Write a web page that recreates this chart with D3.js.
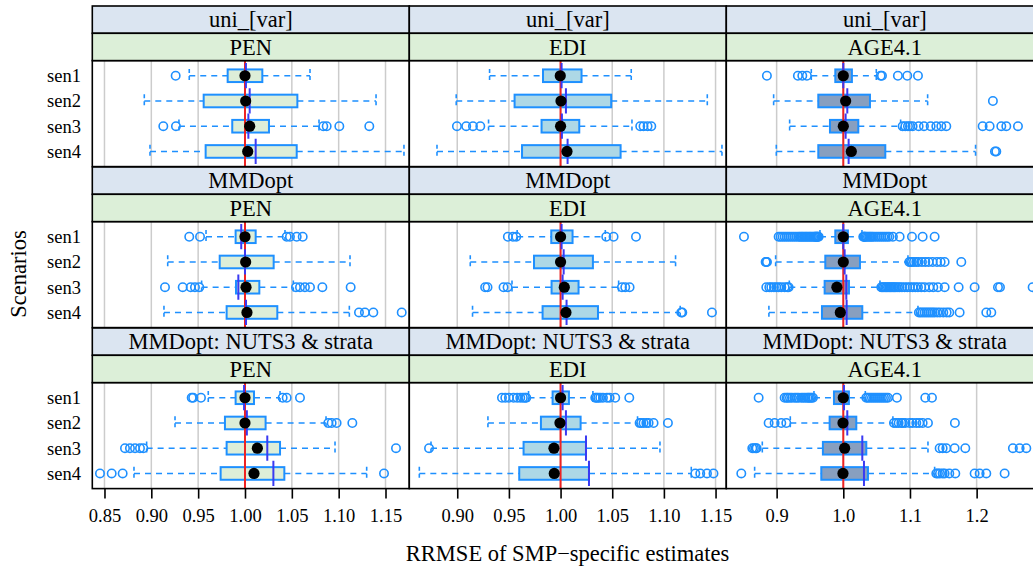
<!DOCTYPE html>
<html>
<head>
<meta charset="utf-8">
<script src="https://cdn.jsdelivr.net/npm/d3@7"></script>
<style>
  html, body { margin: 0; padding: 0; background: #ffffff; overflow: hidden; }
  svg { display: block; }
</style>
</head>
<body>
<svg id="chart" width="1033" height="569"></svg>
<script>
// ---- categories ----
const methods = ["uni_[var]", "MMDopt", "MMDopt: NUTS3 & strata"];
const variables = ["PEN", "EDI", "AGE4.1"];
const scenarios = ["sen1", "sen2", "sen3", "sen4"];

// ---- axis limits and ticks per variable column ----
const penLimits = [0.837, 1.1754];
const ediLimits = [0.8536, 1.1604];
const ageLimits = [0.8245, 1.30];
const penTicks = [0.85, 0.90, 0.95, 1.00, 1.05, 1.10, 1.15];
const penTickLabels = ["0.85", "0.90", "0.95", "1.00", "1.05", "1.10", "1.15"];
const ediTicks = [0.90, 0.95, 1.00, 1.05, 1.10, 1.15];
const ediTickLabels = ["0.90", "0.95", "1.00", "1.05", "1.10", "1.15"];
const ageTicks = [0.9, 1.0, 1.1, 1.2];
const ageTickLabels = ["0.9", "1.0", "1.1", "1.2"];

// ---- box statistics per scenario: [lower whisker, Q1, median, Q3, upper whisker, mean] ----
const uniPEN = [
  [0.9405, 0.9815, 1.0000, 1.0185, 1.0694, 1.0010],
  [0.8925, 0.9559, 1.0007, 1.0559, 1.1399, 1.0050],
  [0.9295, 0.9864, 1.0050, 1.0256, 1.0790, 1.0036],
  [0.8986, 0.9580, 1.0029, 1.0552, 1.1697, 1.0114]
];
const uniPENOut = [
  [0.926],
  [],
  [0.9128, 0.9263, 1.0836, 1.0872, 1.1007, 1.1327],
  []
];
const mmdPEN = [
  [0.9584, 0.9900, 1.0000, 1.0114, 1.0427, 0.9960],
  [0.9175, 0.9730, 1.0007, 1.0306, 1.1121, 1.0000],
  [0.9537, 0.9904, 1.0011, 1.0153, 1.0516, 0.9929],
  [0.9135, 0.9804, 1.0021, 1.0345, 1.1114, 1.0011]
];
const mmdPENOut = [
  [0.9405, 0.9520, 1.0445, 1.0480, 1.0552, 1.0616],
  [],
  [0.9146, 0.9335, 0.9420, 0.9466, 0.9512, 1.0544, 1.0587, 1.0640, 1.0694, 1.0826, 1.1128],
  [1.1217, 1.1280, 1.1370, 1.1673]
];
const nutsPEN = [
  [0.9608, 0.9900, 1.0000, 1.0096, 1.0374, 0.9990],
  [0.9253, 0.9786, 1.0000, 1.0220, 1.0865, 1.0020],
  [0.8950, 0.9804, 1.0132, 1.0374, 1.0961, 1.0238],
  [0.8815, 0.9740, 1.0096, 1.0420, 1.1299, 1.0303]
];
const nutsPENOut = [
  [0.9431, 0.9447, 0.9530, 1.0402, 1.0445, 1.0587],
  [1.0889, 1.0925, 1.0978, 1.1146],
  [0.8719, 0.8772, 0.8826, 0.8879, 0.8915, 1.1612],
  [0.8452, 0.8577, 0.8694, 1.1484]
];

const uniEDI = [
  [0.9313, 0.9830, 0.9997, 1.0203, 1.0684, 1.0010],
  [0.8990, 0.9555, 1.0004, 1.0490, 1.1420, 1.0052],
  [0.9303, 0.9816, 1.0000, 1.0181, 1.0691, 1.0013],
  [0.8804, 0.9627, 1.0062, 1.0581, 1.1562, 1.0068]
];
const uniEDIOut = [
  [],
  [],
  [0.8997, 0.9087, 0.9152, 0.9223, 1.0771, 1.0803, 1.0842, 1.0878],
  []
];
const mmdEDI = [
  [0.9580, 0.9910, 1.0000, 1.0116, 1.0433, 1.0010],
  [0.9126, 0.9743, 1.0000, 1.0313, 1.1113, 1.0030],
  [0.9530, 0.9913, 1.0036, 1.0174, 1.0562, 1.0020],
  [0.9148, 0.9826, 1.0052, 1.0362, 1.1158, 1.0058]
];
const mmdEDIOut = [
  [0.9490, 0.9539, 0.9571, 1.0442, 1.0513, 1.0730],
  [],
  [0.9270, 0.9293, 0.9448, 0.9487, 1.0594, 1.0626, 1.0668],
  [1.1168, 1.1178, 1.1465]
];
const nutsEDI = [
  [0.9690, 0.9923, 1.0000, 1.0081, 1.0313, 1.0020],
  [0.9297, 0.9810, 0.9994, 1.0194, 1.0745, 1.0052],
  [0.8746, 0.9642, 0.9936, 1.0246, 1.0962, 1.0246],
  [0.8633, 0.9600, 0.9939, 1.0275, 1.1265, 1.0275]
];
const nutsEDIOut = [
  [0.9433, 0.9465, 0.9500, 0.9545, 0.9580, 0.9610, 0.9635, 0.9655, 0.9668,
   1.0336, 1.0350, 1.0365, 1.0384, 1.0410, 1.0449, 1.0475, 1.0529, 1.0665],
  [1.0765, 1.0780, 1.0803, 1.0830, 1.0852, 1.0900, 1.1039],
  [0.8727],
  [1.1304, 1.1352, 1.1417, 1.1480]
];

const uniAGE = [
  [0.9520, 0.9880, 1.0000, 1.0129, 1.0495, 1.0000],
  [0.8955, 0.9625, 1.0035, 1.0400, 1.1265, 1.0060],
  [0.9195, 0.9800, 1.0000, 1.0225, 1.0860, 1.0035],
  [0.8995, 0.9625, 1.0120, 1.0630, 1.1984, 1.0080]
];
const uniAGEOut = [
  [0.8854, 0.9319, 0.9385, 0.9454, 1.0560, 1.0580, 1.0819, 1.0960, 1.1120],
  [1.2244],
  [1.0890, 1.0930, 1.0970, 1.1000, 1.1040, 1.1130, 1.1210, 1.1310, 1.1395, 1.1470,
   1.1545, 1.2090, 1.2195, 1.2370, 1.2445, 1.2620],
  [1.2275, 1.2295]
];
const mmdAGE = [
  [0.9650, 0.9880, 1.0000, 1.0069, 1.0280, 1.0000],
  [0.8985, 0.9730, 1.0000, 1.0250, 1.0970, 1.0020],
  [0.9190, 0.9720, 0.9904, 1.0085, 1.0550, 1.0045],
  [0.8884, 0.9680, 0.9955, 1.0285, 1.1120, 1.0050]
];
const mmdAGEOut = [
  [0.851, 0.903, 0.906, 0.909, 0.912, 0.915, 0.918, 0.921, 0.924, 0.927, 0.930, 0.933,
   0.935, 0.937, 0.939, 0.941, 0.943, 0.945, 0.947, 0.949, 0.951, 0.953, 0.955, 0.957,
   0.958, 0.959, 0.960, 0.961, 0.962, 0.963,
   1.030, 1.031, 1.032, 1.033, 1.035, 1.037, 1.039, 1.041, 1.043, 1.045, 1.048, 1.051,
   1.054, 1.057, 1.060, 1.063, 1.066, 1.069, 1.0744, 1.0845, 1.103, 1.119, 1.137],
  [0.8835, 0.8845, 0.8855, 1.099, 1.101, 1.103, 1.106, 1.1095, 1.113, 1.118, 1.123,
   1.128, 1.134, 1.1405, 1.146, 1.152, 1.177],
  [0.8845, 0.889, 0.892, 0.896, 0.8995, 0.903, 0.907, 0.912, 0.916, 0.918,
   1.057, 1.059, 1.061, 1.063, 1.065, 1.067, 1.069, 1.071, 1.073, 1.075, 1.077, 1.079,
   1.082, 1.0845, 1.088, 1.092, 1.096, 1.100, 1.104, 1.108, 1.112, 1.117, 1.122, 1.129,
   1.135, 1.142, 1.152, 1.173, 1.197, 1.232, 1.235, 1.284],
  [1.1134, 1.116, 1.119, 1.122, 1.125, 1.128, 1.131, 1.134, 1.137, 1.141, 1.145, 1.150,
   1.155, 1.159, 1.1745, 1.2145, 1.222]
];
const nutsAGE = [
  [0.9560, 0.9860, 1.0000, 1.0084, 1.0330, 1.0010],
  [0.9205, 0.9795, 0.9995, 1.0195, 1.0744, 1.0060],
  [0.8785, 0.9694, 1.0020, 1.0345, 1.1270, 1.0285],
  [0.8670, 0.9670, 0.9995, 1.0370, 1.1370, 1.0310]
];
const nutsAGEOut = [
  [0.873, 0.912, 0.915, 0.917, 0.920, 0.923, 0.927, 0.930, 0.933, 0.937, 0.940, 0.943,
   0.946, 0.948, 0.950, 0.952, 0.9544,
   1.0345, 1.037, 1.040, 1.043, 1.046, 1.049, 1.052, 1.055, 1.058, 1.061, 1.064, 1.067,
   1.0804, 1.123, 1.133],
  [0.888, 0.897, 0.907, 0.9145, 1.076, 1.0795, 1.083, 1.087, 1.0894, 1.093, 1.0995,
   1.104, 1.1095, 1.114, 1.119, 1.127, 1.1674],
  [0.8635, 0.866, 0.8685, 0.870, 1.1445, 1.149, 1.1545, 1.167, 1.183, 1.2544, 1.2645, 1.2745],
  [0.847, 1.1395, 1.142, 1.145, 1.149, 1.152, 1.159, 1.168, 1.197, 1.2045, 1.2145, 1.242]
];

// ---- assemble the lattice: rows = methods, columns = variables ----
const boxStats = [
  [uniPEN, uniEDI, uniAGE],
  [mmdPEN, mmdEDI, mmdAGE],
  [nutsPEN, nutsEDI, nutsAGE]
];
const outliers = [
  [uniPENOut, uniEDIOut, uniAGEOut],
  [mmdPENOut, mmdEDIOut, mmdAGEOut],
  [nutsPENOut, nutsEDIOut, nutsAGEOut]
];
const colLimits = [penLimits, ediLimits, ageLimits];
const colTicks = [penTicks, ediTicks, ageTicks];
const colTickLabels = [penTickLabels, ediTickLabels, ageTickLabels];

// ---- layout & style ----
const colX = [92.3, 409.3, 726.3];
const panelW = 317;
const rowTop = [6, 167, 328];
const stripH = 27.3;
const panelH = 106;
const serif = "'Liberation Serif', 'Times New Roman', Times, serif";
const stripOuterFill = "#dbe5f1";
const stripInnerFill = "#dcefd8";
const boxFills = ["#ddeed8", "#add8e6", "#889fbf"];
const boxStroke = "#1e90ff";
const refColor = "#ee2222";
const meanColor = "#3a3af2";

const svg = d3.select("#chart");
const defs = svg.append("defs");

const xScales = colLimits.map((lim, c) =>
  d3.scaleLinear().domain(lim).range([colX[c], colX[c] + panelW]));

methods.forEach((method, r) => {
  variables.forEach((variable, c) => {
    const x = xScales[c];
    const pTop = rowTop[r] + 2 * stripH;
    const y = d3.scaleLinear().domain([0.4, 4.6]).range([pTop, pTop + panelH]);
    const clipId = `clip-${r}-${c}`;
    defs.append("clipPath").attr("id", clipId)
      .append("rect").attr("x", colX[c]).attr("y", pTop).attr("width", panelW).attr("height", panelH);

    const g = svg.append("g");
    // panel background
    g.append("rect").attr("x", colX[c]).attr("y", pTop).attr("width", panelW).attr("height", panelH)
      .attr("fill", "#ffffff");

    const marks = g.append("g").attr("clip-path", `url(#${clipId})`);

    // vertical grid at tick positions
    marks.selectAll("line.grid").data(colTicks[c]).join("line")
      .attr("class", "grid")
      .attr("x1", d => x(d)).attr("x2", d => x(d))
      .attr("y1", pTop).attr("y2", pTop + panelH)
      .attr("stroke", "#cccccc").attr("stroke-width", 1.5);

    const stats = boxStats[r][c];
    const outs = outliers[r][c];

    stats.forEach((s, i) => {
      const [lo, q1, med, q3, hi] = s;
      const k = i + 1;
      const yc = y(k);
      // whiskers
      marks.append("line").attr("x1", x(lo)).attr("x2", x(q1)).attr("y1", yc).attr("y2", yc)
        .attr("stroke", boxStroke).attr("stroke-width", 1.6).attr("stroke-dasharray", "6,5");
      marks.append("line").attr("x1", x(q3)).attr("x2", x(hi)).attr("y1", yc).attr("y2", yc)
        .attr("stroke", boxStroke).attr("stroke-width", 1.6).attr("stroke-dasharray", "6,5");
      // whisker end caps
      [lo, hi].forEach(v => {
        marks.append("line").attr("x1", x(v)).attr("x2", x(v))
          .attr("y1", y(k - 0.27)).attr("y2", y(k + 0.27))
          .attr("stroke", boxStroke).attr("stroke-width", 1.6).attr("stroke-dasharray", "4,3");
      });
      // box
      marks.append("rect")
        .attr("x", x(q1)).attr("width", x(q3) - x(q1))
        .attr("y", y(k - 0.25)).attr("height", y(k + 0.25) - y(k - 0.25))
        .attr("fill", boxFills[c]).attr("stroke", boxStroke).attr("stroke-width", 2);
    });

    // outliers
    outs.forEach((list, i) => {
      marks.selectAll(null).data(list).join("circle")
        .attr("cx", d => x(d)).attr("cy", y(i + 1)).attr("r", 4.2)
        .attr("fill", "none").attr("stroke", boxStroke).attr("stroke-width", 1.6);
    });

    // reference line at 1
    marks.append("line").attr("x1", x(1)).attr("x2", x(1))
      .attr("y1", pTop).attr("y2", pTop + panelH)
      .attr("stroke", refColor).attr("stroke-width", 2);

    // means
    stats.forEach((s, i) => {
      marks.append("line").attr("x1", x(s[5])).attr("x2", x(s[5]))
        .attr("y1", y(i + 0.5)).attr("y2", y(i + 1.5))
        .attr("stroke", meanColor).attr("stroke-width", 2);
    });

    // medians
    marks.selectAll("circle.med").data(stats).join("circle")
      .attr("class", "med")
      .attr("cx", d => x(d[2])).attr("cy", (d, i) => y(i + 1)).attr("r", 5.6)
      .attr("fill", "#000000");

    // panel frame
    g.append("rect").attr("x", colX[c]).attr("y", pTop).attr("width", panelW).attr("height", panelH)
      .attr("fill", "none").attr("stroke", "#000").attr("stroke-width", 1.6);

    // strips
    const strips = [
      { label: method, fill: stripOuterFill, top: rowTop[r] },
      { label: variable, fill: stripInnerFill, top: rowTop[r] + stripH }
    ];
    strips.forEach(st => {
      g.append("rect").attr("x", colX[c]).attr("y", st.top).attr("width", panelW).attr("height", stripH)
        .attr("fill", st.fill).attr("stroke", "#000").attr("stroke-width", 1.6);
      g.append("text").attr("x", colX[c] + panelW / 2).attr("y", st.top + stripH / 2)
        .attr("dy", "0.34em").attr("text-anchor", "middle")
        .attr("font-family", serif).attr("font-size", "22.5px").attr("fill", "#000")
        .text(st.label);
    });

    // scenario labels on the first column
    if (c === 0) {
      g.selectAll("text.sen").data(scenarios).join("text")
        .attr("class", "sen")
        .attr("x", 81).attr("y", (d, i) => y(i + 1)).attr("dy", "0.34em")
        .attr("text-anchor", "end").attr("font-family", serif).attr("font-size", "18.5px")
        .attr("fill", "#000").text(d => d);
    }

    // bottom axis on the last row
    if (r === methods.length - 1) {
      const labels = colTickLabels[c];
      const ax = d3.axisBottom(x).tickValues(colTicks[c])
        .tickFormat((d, i) => labels[i]).tickSize(10).tickPadding(10);
      const axG = svg.append("g").attr("transform", `translate(0,${pTop + panelH})`).call(ax);
      axG.select(".domain").remove();
      axG.selectAll(".tick line").attr("stroke", "#000").attr("stroke-width", 1.6);
      axG.selectAll(".tick text").attr("font-family", serif).attr("font-size", "18.5px").attr("fill", "#000");
    }
  });
});

// axis titles
svg.append("text").attr("x", 567.5).attr("y", 561).attr("text-anchor", "middle")
  .attr("font-family", serif).attr("font-size", "22.5px").attr("fill", "#000")
  .text("RRMSE of SMP\u2212specific estimates");
svg.append("text").attr("transform", "translate(26,274) rotate(-90)").attr("text-anchor", "middle")
  .attr("font-family", serif).attr("font-size", "22.5px").attr("fill", "#000")
  .text("Scenarios");
</script>
</body>
</html>
